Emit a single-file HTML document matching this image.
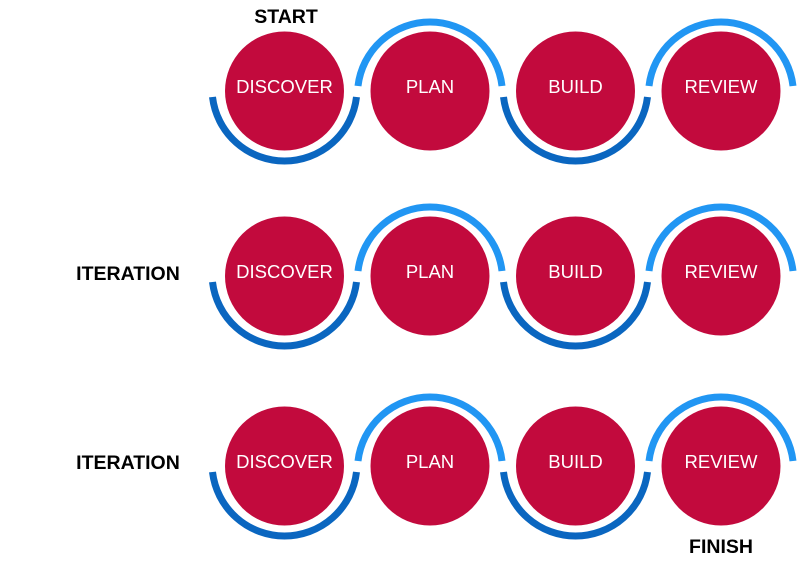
<!DOCTYPE html>
<html><head><style>body{margin:0;background:#fff}</style></head><body>
<svg width="800" height="568" viewBox="0 0 800 568" xmlns="http://www.w3.org/2000/svg" font-family="Liberation Sans, sans-serif">
<defs>
<g id="row">
<path d="M-72,6 A72.5,72.5 0 0 0 72,6" transform="translate(284.5,0)" fill="none" stroke="#0a66c0" stroke-width="7"/>
<path d="M-72,-5 A72.5,72.5 0 0 1 72,-5" transform="translate(430,0)" fill="none" stroke="#2196f3" stroke-width="7"/>
<path d="M-72,6 A72.5,72.5 0 0 0 72,6" transform="translate(575.5,0)" fill="none" stroke="#0a66c0" stroke-width="7"/>
<path d="M-72,-5 A72.5,72.5 0 0 1 72,-5" transform="translate(721,0)" fill="none" stroke="#2196f3" stroke-width="7"/>
<circle cx="284.5" cy="0" r="59.5" fill="#c20a3d"/>
<circle cx="430" cy="0" r="59.5" fill="#c20a3d"/>
<circle cx="575.5" cy="0" r="59.5" fill="#c20a3d"/>
<circle cx="721" cy="0" r="59.5" fill="#c20a3d"/>
<g fill="#fff" font-size="18.5" text-anchor="middle">
<text x="284.5" y="2">DISCOVER</text>
<text x="430" y="2">PLAN</text>
<text x="575.5" y="2">BUILD</text>
<text x="721" y="2">REVIEW</text>
</g>
</g>
</defs>
<use href="#row" transform="translate(0,91)"/>
<use href="#row" transform="translate(0,276)"/>
<use href="#row" transform="translate(0,466)"/>
<g font-weight="bold" font-size="19.5" text-anchor="middle" fill="#000">
<text x="286" y="23">START</text>
<text x="128" y="280">ITERATION</text>
<text x="128" y="469">ITERATION</text>
<text x="721" y="553">FINISH</text>
</g>
</svg>
</body></html>
